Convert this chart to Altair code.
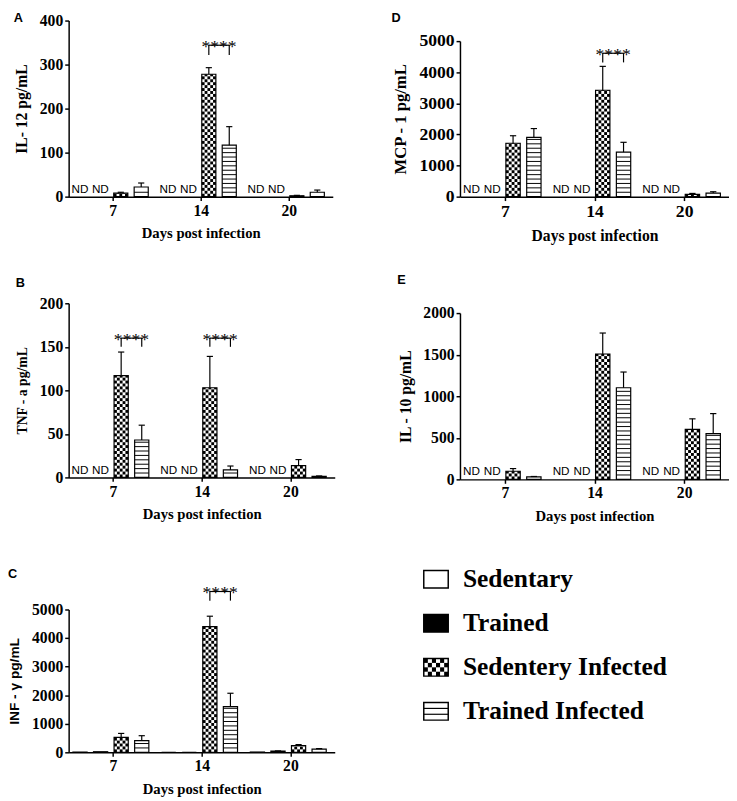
import math
import altair as alt
import pandas as pd

# ---------------- data ----------------
days = ["7", "14", "20"]
groups = ["Sedentary", "Trained", "Sedentery Infected", "Trained Infected"]
group_fill = ["white", "black", "white", "white"]

letters = ["A", "B", "C", "D", "E"]
y_titles = ["IL- 12 pg/mL", "TNF - a pg/mL", "INF - \u03b3 pg/mL", "MCP - 1 pg/mL", "IL - 10 pg/mL"]
y_max = [400, 200, 5000, 5000, 2000]
y_step = [100, 50, 1000, 1000, 500]

# None = ND (not detected)
il12_sed = [None, None, None]
il12_trn = [None, None, None]
il12_sedinf = [8, 278, 2]
il12_trninf = [22, 117, 10]
il12_sedinf_err = [2, 15, 1]
il12_trninf_err = [9, 42, 5]
il12_sig_days = [1]
il12_sig_top, il12_sig_leg = 344, 322

tnf_sed = [None, None, None]
tnf_trn = [None, None, None]
tnf_sedinf = [117, 103, 13.5]
tnf_trninf = [43, 8.6, 1.2]
tnf_sedinf_err = [27, 36, 7]
tnf_trninf_err = [17, 4.5, 0.5]
tnf_sig_days = [0, 1]
tnf_sig_top, tnf_sig_leg = 160, 150

ifn_sed = [5, 0, 10]
ifn_trn = [20, 0, 45]
ifn_sedinf = [525, 4400, 240]
ifn_trninf = [411, 1600, 115]
ifn_sed_err = [0, 0, 0]
ifn_trn_err = [0, 0, 5]
ifn_sedinf_err = [137, 365, 30]
ifn_trninf_err = [171, 468, 15]
ifn_sig_days = [1]
ifn_sig_top, ifn_sig_leg = 5630, 5310

mcp_sed = [None, None, None]
mcp_trn = [None, None, None]
mcp_sedinf = [1716, 3420, 74]
mcp_trninf = [1905, 1432, 116]
mcp_sedinf_err = [242, 768, 30]
mcp_trninf_err = [284, 315, 42]
mcp_sig_days = [1]
mcp_sig_top, mcp_sig_leg = 4610, 4316

il10_sed = [None, None, None]
il10_trn = [None, None, None]
il10_sedinf = [98, 1508, 602]
il10_trninf = [31, 1102, 551]
il10_sedinf_err = [32, 252, 126]
il10_trninf_err = [4, 189, 240]
il10_sig_days = []
il10_sig_top, il10_sig_leg = 0, 0

zeros = [0, 0, 0]
panel_means = [
    [il12_sed, il12_trn, il12_sedinf, il12_trninf],
    [tnf_sed, tnf_trn, tnf_sedinf, tnf_trninf],
    [ifn_sed, ifn_trn, ifn_sedinf, ifn_trninf],
    [mcp_sed, mcp_trn, mcp_sedinf, mcp_trninf],
    [il10_sed, il10_trn, il10_sedinf, il10_trninf],
]
panel_errs = [
    [zeros, zeros, il12_sedinf_err, il12_trninf_err],
    [zeros, zeros, tnf_sedinf_err, tnf_trninf_err],
    [ifn_sed_err, ifn_trn_err, ifn_sedinf_err, ifn_trninf_err],
    [zeros, zeros, mcp_sedinf_err, mcp_trninf_err],
    [zeros, zeros, il10_sedinf_err, il10_trninf_err],
]
panel_sig = [
    (il12_sig_days, il12_sig_top, il12_sig_leg),
    (tnf_sig_days, tnf_sig_top, tnf_sig_leg),
    (ifn_sig_days, ifn_sig_top, ifn_sig_leg),
    (mcp_sig_days, mcp_sig_top, mcp_sig_leg),
    (il10_sig_days, il10_sig_top, il10_sig_leg),
]

# ---------------- layout / style ----------------
P_H = [180, 178, 146, 159, 170]
P_W = [270, 272, 272, 275, 275]
TITLE_OFF = [-12, 6, 4, 8, 19]
LABEL_FS = [16, 16, 16, 18, 16]
YTITLE_FS = [16, 14, 14, 17, 16]
XTITLE_FS = [15, 15, 15, 16, 15]
BW, STEP, OFF, CAP = 0.16, 0.232, 0.012, 0.035
NCOL = 5          # checker columns per bar
CELL_PX = 3.0     # checker cell height (px)
STRIPE_PX = 4.5   # stripe spacing (px)
SERIF = "Liberation Serif"
SANS = "Liberation Sans"


def bar_left(d, k):
    return d + 0.5 + (k - 2) * STEP + OFF


def make_panel(p):
    ymax, H, W = y_max[p], P_H[p], P_W[p]
    means, errs = panel_means[p], panel_errs[p]
    sig_days, sig_top, sig_leg = panel_sig[p]

    bars, nd, cells, stripes = [], [], [], []
    ch = CELL_PX * ymax / H
    sp = STRIPE_PX * ymax / H
    cw = BW / NCOL
    for d in range(len(days)):
        for k, g in enumerate(groups):
            v = means[k][d]
            x0 = bar_left(d, k)
            xc = x0 + BW / 2
            if v is None:
                nd.append({"xc": xc, "base": 0, "label": "ND"})
                continue
            e = errs[k][d]
            bars.append({"x0": x0, "x1": x0 + BW, "xc": xc, "ca": xc - CAP, "cb": xc + CAP,
                         "base": 0, "v": v, "top": v + e, "err": e, "group": g})
            if g == "Sedentery Infected":
                nrow = int(math.ceil(v / ch))
                for r in range(nrow):
                    for c in range(NCOL):
                        if (r + c) % 2 == 0:
                            cells.append({"x0": x0 + c * cw, "x1": x0 + (c + 1) * cw,
                                          "y0": r * ch, "y1": min((r + 1) * ch, v)})
            if g == "Trained Infected":
                j = 1
                while j * sp < v - 0.3 * sp:
                    stripes.append({"x0": x0, "x1": x0 + BW, "y": j * sp})
                    j += 1

    bars_df = pd.DataFrame(bars)
    errbar_df = bars_df[bars_df["err"] > 0]

    xsc = alt.Scale(domain=[0, 3], nice=False, zero=False)
    ysc = alt.Scale(domain=[0, ymax], nice=False, zero=True)
    label_expr = "[" + ",".join("'%s'" % t for t in days) + "][floor(datum.value)]"
    xax = alt.Axis(values=[0.5, 1.5, 2.5], labelExpr=label_expr, title="Days post infection",
                   titlePadding=8, labelFontSize=LABEL_FS[p], titleFontSize=XTITLE_FS[p])
    yax_kw = dict(values=list(range(0, ymax + 1, y_step[p])), format="d", title=y_titles[p],
                  titlePadding=10, labelFontSize=LABEL_FS[p], titleFontSize=YTITLE_FS[p])
    if p == 2:
        yax_kw.update(titleFont=SANS)
    yax = alt.Axis(**yax_kw)

    def X(f):
        return alt.X(f, type="quantitative", scale=xsc, axis=xax)

    def Y(f):
        return alt.Y(f, type="quantitative", scale=ysc, axis=yax)

    layers = []
    layers.append(alt.Chart(bars_df).mark_rect().encode(
        x=X("x0"), x2="x1", y=Y("base"), y2="v",
        fill=alt.Fill("group:N", scale=alt.Scale(domain=groups, range=group_fill), legend=None)))
    if cells:
        layers.append(alt.Chart(pd.DataFrame(cells)).mark_rect(color="black").encode(
            x=X("x0"), x2="x1", y=Y("y0"), y2="y1"))
    if stripes:
        layers.append(alt.Chart(pd.DataFrame(stripes)).mark_rule(color="black", strokeWidth=1).encode(
            x=X("x0"), x2="x1", y=Y("y")))
    layers.append(alt.Chart(bars_df).mark_rect(fillOpacity=0, stroke="black", strokeWidth=1.2).encode(
        x=X("x0"), x2="x1", y=Y("base"), y2="v"))
    if len(errbar_df):
        layers.append(alt.Chart(errbar_df).mark_rule(color="black", strokeWidth=1.2).encode(
            x=X("xc"), y=Y("v"), y2="top"))
        layers.append(alt.Chart(errbar_df).mark_rule(color="black", strokeWidth=1.2).encode(
            x=X("ca"), x2="cb", y=Y("top")))
    if nd:
        layers.append(alt.Chart(pd.DataFrame(nd)).mark_text(
            font=SANS, fontSize=12, fill="black", baseline="alphabetic", dy=-4).encode(
            x=X("xc"), y=Y("base"), text="label:N"))
    if sig_days:
        br = []
        for d in sig_days:
            xa = bar_left(d, 2) + BW / 2
            xb = bar_left(d, 3) + BW / 2
            br.append({"xa": xa, "xb": xb, "xm": (xa + xb) / 2, "top": sig_top, "leg": sig_leg,
                       "stars": "****"})
        br_df = pd.DataFrame(br)
        layers.append(alt.Chart(br_df).mark_rule(color="black", strokeWidth=1.2).encode(
            x=X("xa"), x2="xb", y=Y("top")))
        layers.append(alt.Chart(br_df).mark_rule(color="black", strokeWidth=1.2).encode(
            x=X("xa"), y=Y("leg"), y2="top"))
        layers.append(alt.Chart(br_df).mark_rule(color="black", strokeWidth=1.2).encode(
            x=X("xb"), y=Y("leg"), y2="top"))
        layers.append(alt.Chart(br_df).mark_text(
            font=SERIF, fontSize=18, fill="black", baseline="alphabetic", dy=7).encode(
            x=X("xm"), y=Y("top"), text="stars:N"))

    return alt.layer(*layers).properties(
        width=W, height=H,
        title=alt.TitleParams(text=letters[p], anchor="start", frame="bounds", offset=TITLE_OFF[p],
                              font=SANS, fontSize=13, fontWeight="bold", color="black"))


# ---------------- custom legend ----------------
LEG_W, LEG_H = 275, 180
LEG_X_LO = 1.48
leg_sq, leg_cells, leg_lines = [], [], []
for i, g in enumerate(groups):
    leg_sq.append({"x0": 0, "x1": 1, "ya": i - 0.2, "yb": i + 0.2, "ym": i, "tx": 1.6, "group": g})
    if g == "Sedentery Infected":
        for r in range(4):
            for c in range(6):
                if (r + c) % 2 == 0:
                    leg_cells.append({"x0": c / 6, "x1": (c + 1) / 6,
                                      "ya": i - 0.2 + r * 0.1, "yb": i - 0.2 + (r + 1) * 0.1})
    if g == "Trained Infected":
        for t in (1, 2):
            leg_lines.append({"x0": 0, "x1": 1, "y": i - 0.2 + t * 0.4 / 3})
leg_df = pd.DataFrame(leg_sq)
lx = alt.Scale(domain=[LEG_X_LO, LEG_X_LO + LEG_W / 25.0], nice=False, zero=False)
ly = alt.Scale(domain=[-0.58, 3.42], nice=False, zero=False, reverse=True)


def LX(f):
    return alt.X(f, type="quantitative", scale=lx, axis=None)


def LY(f):
    return alt.Y(f, type="quantitative", scale=ly, axis=None)


legend = alt.layer(
    alt.Chart(leg_df).mark_rect().encode(
        x=LX("x0"), x2="x1", y=LY("ya"), y2="yb",
        fill=alt.Fill("group:N", scale=alt.Scale(domain=groups, range=group_fill), legend=None)),
    alt.Chart(pd.DataFrame(leg_cells)).mark_rect(color="black").encode(
        x=LX("x0"), x2="x1", y=LY("ya"), y2="yb"),
    alt.Chart(pd.DataFrame(leg_lines)).mark_rule(color="black", strokeWidth=1.2).encode(
        x=LX("x0"), x2="x1", y=LY("y")),
    alt.Chart(leg_df).mark_rect(fillOpacity=0, stroke="black", strokeWidth=1.5).encode(
        x=LX("x0"), x2="x1", y=LY("ya"), y2="yb"),
    alt.Chart(leg_df).mark_text(font=SERIF, fontSize=26, fontWeight="bold", fill="black",
                                align="left", baseline="middle").encode(
        x=LX("tx"), y=LY("ym"), text="group:N"),
).properties(width=LEG_W, height=LEG_H)


def spacer():
    return alt.Chart(pd.DataFrame({"s": [0]})).mark_point(opacity=0, size=1).encode(
        x=alt.X("s:Q", axis=None), y=alt.Y("s:Q", axis=None)).properties(width=10, height=1)


left_ab = alt.vconcat(make_panel(0), make_panel(1), spacing=37)
left_inner = alt.vconcat(left_ab, make_panel(2), spacing=47)
right_inner = alt.vconcat(make_panel(3), make_panel(4), legend, spacing=31)
left = alt.vconcat(spacer(), left_inner, spacing=0)
right = alt.vconcat(spacer(), right_inner, spacing=0)

chart = alt.hconcat(left, right, spacing=58).properties(
    padding={"left": 0, "top": -6, "right": 0, "bottom": 0}
).configure_view(
    stroke=None
).configure_axis(
    grid=False, domainColor="black", domainWidth=1.5, tickColor="black", tickWidth=1.5,
    tickSize=4, labelFont=SERIF, labelFontWeight="bold", labelColor="black",
    labelPadding=2, titleFont=SERIF, titleFontWeight="bold", titleColor="black",
)

chart.save("out.html", embed_options={"renderer": "svg", "actions": False})
